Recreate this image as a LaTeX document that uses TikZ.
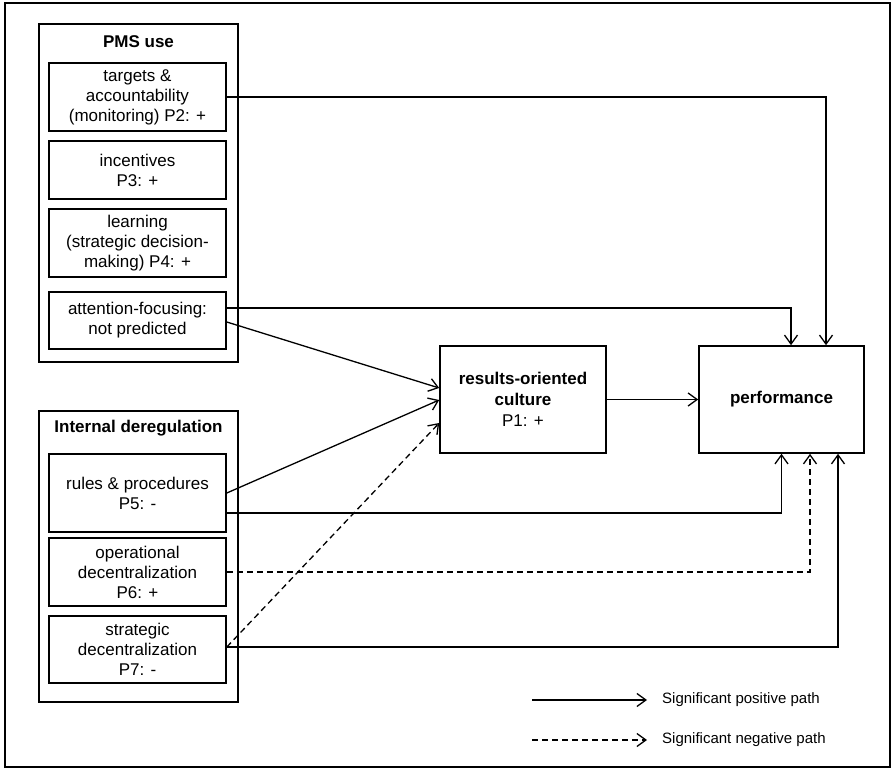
\documentclass[tikz,border=0pt]{standalone}
\usepackage{fontspec}
\setmainfont{Liberation Sans}
\usetikzlibrary{
    arrows.meta,
    positioning
}

\begin{document}
\begin{tikzpicture}[x=1pt, y=-1pt,
    font=\fontsize{17}{20}\selectfont,
    group/.style={draw, line width=1.6pt, minimum width=199pt, inner sep=0pt},
    item/.style={draw, line width=1.6pt, minimum width=177pt, align=center, inner sep=0pt},
    main/.style={draw, line width=1.6pt, minimum height=107pt, align=center,
        font=\fontsize{17}{21}\selectfont\bfseries},
    head/.style={font=\fontsize{17}{20}\selectfont\bfseries},
    pospath/.style={line width=1.3pt, -{Straight Barb[length=9pt, width=13pt, line width=1.3pt]}},
    negpath/.style={pospath, dash pattern=on 6pt off 4pt},
    legtext/.style={anchor=west, inner sep=0pt, font=\fontsize{15}{18}\selectfont}
]
    \useasboundingbox (0,0) rectangle (894,770);
    \draw[line width=1.2pt] (5,3) rectangle (890,767);

    % PMS use
    \node[group, minimum height=338pt] (pms) at (138.5,193) {};
    \node[head] (pmshead) at (138.5,42) {PMS use};
    \node[item, minimum height=68pt] (tgt) at (137.5,97) {targets \&\\accountability\\(monitoring) P2: +};
    \node[item, minimum height=58pt] (inc) at (137.5,170) {incentives\\P3: +};
    \node[item, minimum height=68pt] (lrn) at (137.5,243) {learning\\(strategic decision-\\making) P4: +};
    \node[item, minimum height=57pt] (att) at (137.5,320.5) {attention-focusing:\\not predicted};

    % internal deregulation
    \node[group, minimum height=291pt] (dereg) at (138.5,556.5) {};
    \node[head] (dereghead) at (138.5,428) {Internal deregulation};
    \node[item, minimum height=78pt] (rul) at (137.5,493) {rules \& procedures\\P5: -};
    \node[item, minimum height=68pt] (opr) at (137.5,572) {operational\\decentralization\\P6: +};
    \node[item, minimum height=67pt] (str) at (137.5,649.5) {strategic\\decentralization\\P7: -};

    \node[main, minimum width=166pt] (res) at (523,399.5) {results-oriented\\culture\\\mdseries P1: +};
    \node[main, minimum width=165pt] (perf) at (781.5,399.5) {performance};

    \draw[pospath] (tgt.east) -| ([xshift=44.5pt]perf.north);
    \draw[pospath] ([yshift=12.5pt]att.east) -| ([xshift=9.5pt]perf.north);
    \draw[pospath] ([yshift=-1.5pt]att.east) -- ([yshift=11.5pt]res.west);
    \draw[pospath] (rul.east) -- ([yshift=-0.5pt]res.west);
    \draw[negpath] ([yshift=2.5pt]str.east) -- ([yshift=-23.5pt]res.west);
    \draw[pospath] (res.east) -- (perf.west);
    \draw[pospath] ([yshift=-20pt]rul.east) -| (perf.south);
    \draw[negpath] (opr.east) -| ([xshift=28.5pt]perf.south);
    \draw[pospath] ([yshift=2.5pt]str.east) -| ([xshift=56.5pt]perf.south);

    % legend
    \node[legtext] (lpos) at (662,700) {Significant positive path};
    \node[legtext] (lneg) at (662,740) {Significant negative path};
    \coordinate (lpos0) at (532,700);
    \coordinate (lneg0) at (532,740);
    \draw[pospath] (lpos0) -- ([xshift=-15pt]lpos.west);
    \draw[negpath] (lneg0) -- ([xshift=-15pt]lneg.west);
\end{tikzpicture}
\end{document}
